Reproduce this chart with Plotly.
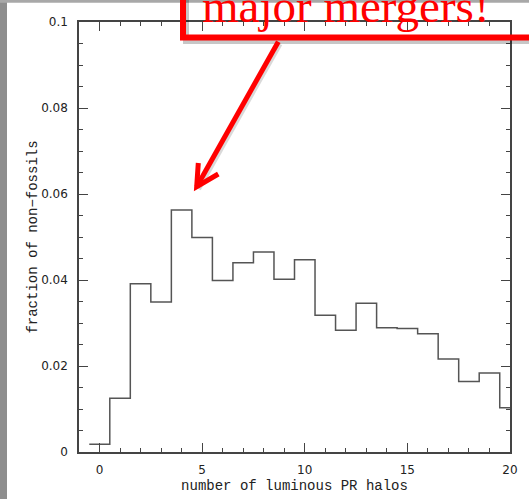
import plotly.graph_objects as go

# ---- data ----
bin_centers = list(range(0, 21))
fraction_non_fossils = [0.0018, 0.0125, 0.0391, 0.0349, 0.0563, 0.0499, 0.0399,
                        0.0440, 0.0465, 0.0402, 0.0447, 0.0318, 0.0283, 0.0346,
                        0.0289, 0.0287, 0.0275, 0.0216, 0.0164, 0.0184, 0.0103]
x_tick_vals = [0, 5, 10, 15, 20]
x_tick_text = ["0", "5", "10", "15", "20"]
y_tick_vals = [0, 0.02, 0.04, 0.06, 0.08, 0.1]
y_tick_text = ["0", "0.02", "0.04", "0.06", "0.08", "0.1"]
annotation_text = "major mergers!"

# step edges built from bin centres
edges = [c - 0.5 for c in bin_centers] + [bin_centers[-1] + 0.5]
step_y = fraction_non_fossils + [fraction_non_fossils[-1]]

W, H = 529, 499
L, R, T, B = 79, 19, 22, 47
PW, PH = W - L - R, H - T - B


def px(x):
    return (x - L) / PW


def py(y):
    return (H - B - y) / PH


fig = go.Figure()
fig.add_trace(go.Scatter(
    x=edges, y=step_y, mode="lines", line_shape="hv",
    line=dict(color="#555555", width=1.5), hoverinfo="skip", showlegend=False))

axis_common = dict(
    showgrid=False, zeroline=False, showline=True, linecolor="#444444",
    linewidth=1.5, mirror="ticks", ticks="inside", ticklen=9, tickwidth=1.2,
    tickcolor="#444444", tickfont=dict(family="DejaVu Sans", size=12, color="#222222"),
    automargin=False,
)

fig.update_xaxes(
    range=[-1, 20], tickmode="array", tickvals=x_tick_vals, ticktext=x_tick_text,
    minor=dict(dtick=1, ticks="inside", ticklen=4.5, tickwidth=1.2, tickcolor="#444444"),
    title=dict(text="number of luminous PR halos",
               font=dict(family="Liberation Mono", size=14, color="#222222"), standoff=4),
    ticklabelstandoff=6,
    **axis_common)
fig.update_yaxes(
    range=[0, 0.1], tickmode="array", tickvals=y_tick_vals, ticktext=y_tick_text,
    minor=dict(dtick=0.005, ticks="inside", ticklen=4.5, tickwidth=1.2, tickcolor="#444444"),
    title=dict(text="fraction of non\u2212fossils",
               font=dict(family="Liberation Mono", size=14, color="#222222"), standoff=0),
    ticklabelstandoff=7,
    **axis_common)

shapes = []
# gray frame edges of the slide
shapes.append(dict(type="rect", xref="paper", yref="paper", x0=px(-2), x1=px(7),
                   y0=py(H + 2), y1=py(-2), fillcolor="#8e8e8e", line=dict(width=0)))
shapes.append(dict(type="rect", xref="paper", yref="paper", x0=px(-2), x1=px(W + 2),
                   y0=py(2.7), y1=py(-2), fillcolor="#a8a8a8", line=dict(width=0)))

# callout box (shadow + red frame)
shapes.append(dict(type="path", xref="paper", yref="paper",
                   path=f"M {px(186)} {py(-40)} L {px(186)} {py(41)} L {px(600)} {py(41)}",
                   line=dict(color="rgba(0,0,0,0.22)", width=6)))
shapes.append(dict(type="path", xref="paper", yref="paper",
                   path=f"M {px(183)} {py(-40)} L {px(183)} {py(37.5)} L {px(600)} {py(37.5)}",
                   line=dict(color="#ff0000", width=6)))
# arrow shadow
shapes.append(dict(type="path", xref="paper", yref="paper",
                   path=f"M {px(280)} {py(44)} L {px(198.5)} {py(189)}",
                   line=dict(color="rgba(0,0,0,0.15)", width=5)))
# arrow
shapes.append(dict(type="path", xref="paper", yref="paper",
                   path=f"M {px(278.3)} {py(41.7)} L {px(196.7)} {py(186.7)}",
                   line=dict(color="#ff0000", width=5)))
shapes.append(dict(type="path", xref="paper", yref="paper",
                   path=f"M {px(198.3)} {py(163)} L {px(196.7)} {py(186.7)} L {px(218.3)} {py(174)}",
                   line=dict(color="#ff0000", width=5)))

fig.update_layout(
    width=W, height=H, margin=dict(l=L, r=R, t=T, b=B),
    paper_bgcolor="white", plot_bgcolor="white",
    shapes=shapes,
    annotations=[dict(
        text=annotation_text, xref="paper", yref="paper",
        x=px(346), y=py(34), xanchor="center", yanchor="bottom", showarrow=False,
        font=dict(family="Liberation Serif", size=47, color="#ff0000"))],
)

fig.write_html("out.html", config={"displayModeBar": False},
               post_script="document.body.style.margin='0';document.body.style.overflow='hidden';")
